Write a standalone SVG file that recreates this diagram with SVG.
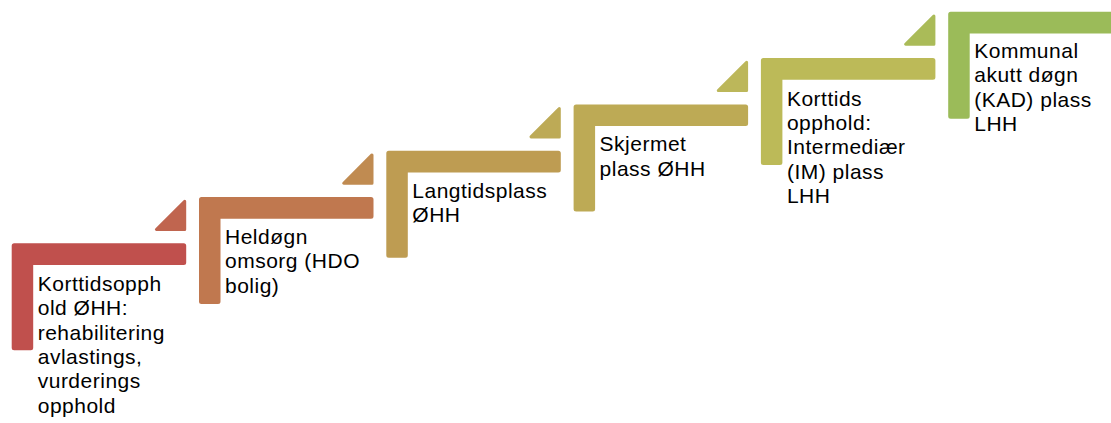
<svg xmlns="http://www.w3.org/2000/svg" xmlns:xlink="http://www.w3.org/1999/xlink" width="1111" height="423" viewBox="0 0 1111 423">
  <style>
    .label { font-family: "Liberation Sans", Arial, sans-serif; font-size: 21px; letter-spacing: 0.5px; fill: #000000; }
    .tri { stroke-width: 3; stroke-linejoin: round; }
    .s1 { fill: #C0504D; }
    .t1 { fill: #C0654F; stroke: #C0654F; }
    .s2 { fill: #C0784F; }
    .t2 { fill: #C08B51; stroke: #C08B51; }
    .s3 { fill: #BE9C52; }
    .t3 { fill: #BDAA56; stroke: #BDAA56; }
    .s4 { fill: #BDAA55; }
    .t4 { fill: #BCB75A; stroke: #BCB75A; }
    .s5 { fill: #BCBA58; }
    .t5 { fill: #AABB58; stroke: #AABB58; }
    .s6 { fill: #9BBB59; }
  </style>
  <defs>
    <!-- corner-shaped step with rounded outer corners -->
    <path id="corner" d="M0,2.5 A2.5,2.5 0 0 1 2.5,0 H172 A2.5,2.5 0 0 1 174.5,2.5 V19.2 A2.5,2.5 0 0 1 172,21.7 H21.5 V104.5 A2.5,2.5 0 0 1 19,107 H2.5 A2.5,2.5 0 0 1 0,104.5 Z"/>
    <!-- small riser triangle above each step -->
    <path id="riser" d="M144.7,-13.8 H173 V-42.1 Z"/>
  </defs>

  <g id="connectors"></g>

  <g id="step1" transform="translate(11.7,243.3)">
    <use xlink:href="#corner" class="s1"/>
    <use xlink:href="#riser" class="tri t1"/>
    <text class="label" x="26" y="47.5">
      <tspan x="26">Korttidsopph</tspan>
      <tspan x="26" dy="24.4">old ØHH:</tspan>
      <tspan x="26" dy="24.4">rehabilitering</tspan>
      <tspan x="26" dy="24.4">avlastings,</tspan>
      <tspan x="26" dy="24.4">vurderings</tspan>
      <tspan x="26" dy="24.4">opphold</tspan>
    </text>
  </g>

  <g id="step2" transform="translate(199,197)">
    <use xlink:href="#corner" class="s2"/>
    <use xlink:href="#riser" class="tri t2"/>
    <text class="label" x="26" y="47">
      <tspan x="26">Heldøgn</tspan>
      <tspan x="26" dy="24.4">omsorg (HDO</tspan>
      <tspan x="26" dy="24.4">bolig)</tspan>
    </text>
  </g>

  <g id="step3" transform="translate(386.3,150.7)">
    <use xlink:href="#corner" class="s3"/>
    <use xlink:href="#riser" class="tri t3"/>
    <text class="label" x="26" y="47">
      <tspan x="26">Langtidsplass</tspan>
      <tspan x="26" dy="24.4">ØHH</tspan>
    </text>
  </g>

  <g id="step4" transform="translate(573.6,104.4)">
    <use xlink:href="#corner" class="s4"/>
    <use xlink:href="#riser" class="tri t4"/>
    <text class="label" x="26" y="47">
      <tspan x="26">Skjermet</tspan>
      <tspan x="26" dy="24.4">plass ØHH</tspan>
    </text>
  </g>

  <g id="step5" transform="translate(760.9,58.1)">
    <use xlink:href="#corner" class="s5"/>
    <use xlink:href="#riser" class="tri t5"/>
    <text class="label" x="26" y="47.5">
      <tspan x="26">Korttids</tspan>
      <tspan x="26" dy="24.4">opphold:</tspan>
      <tspan x="26" dy="24.4">Intermediær</tspan>
      <tspan x="26" dy="24.4">(IM) plass</tspan>
      <tspan x="26" dy="24.4">LHH</tspan>
    </text>
  </g>

  <g id="step6" transform="translate(948.2,11.8)">
    <use xlink:href="#corner" class="s6"/>
    <text class="label" x="26" y="46">
      <tspan x="26">Kommunal</tspan>
      <tspan x="26" dy="24.4">akutt døgn</tspan>
      <tspan x="26" dy="24.4">(KAD) plass</tspan>
      <tspan x="26" dy="24.4">LHH</tspan>
    </text>
  </g>
</svg>
